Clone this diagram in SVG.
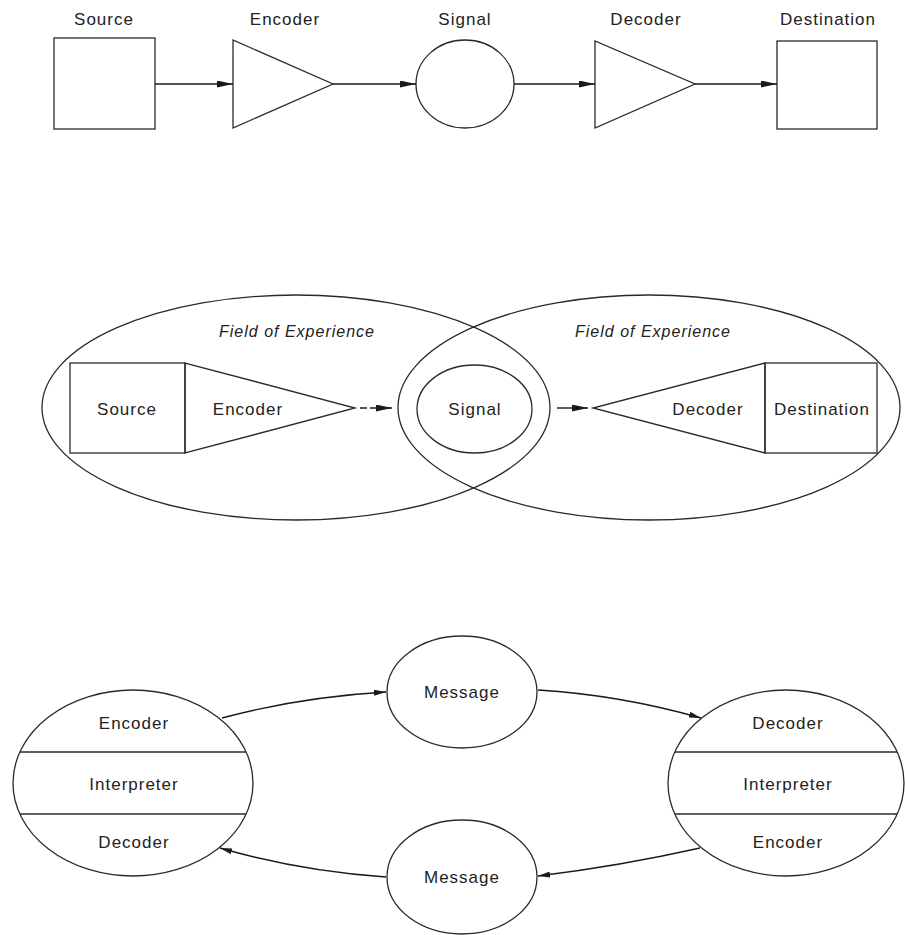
<svg xmlns="http://www.w3.org/2000/svg" width="905" height="935" viewBox="0 0 905 935">
  <style>
    .shape { fill: none; stroke: #2a2a2a; stroke-width: 1.3; }
    .wire { fill: none; stroke: #1a1a1a; stroke-width: 1.4; }
    .lbl { font-family: "Liberation Sans", Arial, sans-serif; font-size: 17px; letter-spacing: 1px; fill: #222; text-anchor: middle; }
    .fld { font-family: "Liberation Sans", Arial, sans-serif; font-size: 16px; font-style: italic; letter-spacing: 1px; fill: #222; text-anchor: middle; }
  </style>
  <defs>
    <marker id="head" viewBox="0 0 16 7" refX="16" refY="3.5" markerWidth="16" markerHeight="7" markerUnits="userSpaceOnUse" orient="auto">
      <path d="M0,0 L16,3.5 L0,7 z" fill="#1a1a1a"/>
    </marker>
    <marker id="headSm" viewBox="0 0 12 6" refX="12" refY="3" markerWidth="12" markerHeight="6" markerUnits="userSpaceOnUse" orient="auto">
      <path d="M0,0 L12,3 L0,6 z" fill="#1a1a1a"/>
    </marker>
  </defs>
  <rect width="905" height="935" fill="#ffffff"/>

  <!-- Linear model -->
  <g id="lin-source">
    <rect class="shape" x="54" y="38" width="101" height="91"/>
    <text class="lbl" x="104" y="25">Source</text>
  </g>
  <g id="lin-encoder">
    <polygon class="shape" points="233,40 233,128 333,84"/>
    <text class="lbl" x="285" y="25">Encoder</text>
  </g>
  <g id="lin-signal">
    <ellipse class="shape" cx="465" cy="84" rx="49" ry="44"/>
    <text class="lbl" x="465" y="25">Signal</text>
  </g>
  <g id="lin-decoder">
    <polygon class="shape" points="595,41 595,128 695,84"/>
    <text class="lbl" x="646" y="25">Decoder</text>
  </g>
  <g id="lin-destination">
    <rect class="shape" x="777" y="41" width="100" height="88"/>
    <text class="lbl" x="828" y="25">Destination</text>
  </g>

  <!-- Overlapping fields of experience -->
  <g id="field-sender">
    <ellipse class="shape" cx="296" cy="407.5" rx="254" ry="112.5"/>
    <text class="fld" x="297" y="337">Field of Experience</text>
  </g>
  <g id="field-receiver">
    <ellipse class="shape" cx="649" cy="407.5" rx="251" ry="112.5"/>
    <text class="fld" x="653" y="337">Field of Experience</text>
  </g>
  <g id="fld-source">
    <rect class="shape" x="70" y="363" width="115" height="90"/>
    <text class="lbl" x="127" y="415">Source</text>
  </g>
  <g id="fld-encoder">
    <polygon class="shape" points="185,363 185,453 355,408"/>
    <text class="lbl" x="248" y="415">Encoder</text>
  </g>
  <g id="fld-signal">
    <ellipse class="shape" cx="474.5" cy="409" rx="57.5" ry="44"/>
    <text class="lbl" x="475" y="415">Signal</text>
  </g>
  <g id="fld-decoder">
    <polygon class="shape" points="765,363 765,453 593,408"/>
    <text class="lbl" x="708" y="415">Decoder</text>
  </g>
  <g id="fld-destination">
    <rect class="shape" x="765" y="363" width="112" height="90"/>
    <text class="lbl" x="822" y="415">Destination</text>
  </g>

  <!-- Transactional model -->
  <g id="party-a">
    <ellipse class="shape" cx="133" cy="783" rx="120" ry="93"/>
    <line class="shape" x1="20" y1="752" x2="246" y2="752"/>
    <line class="shape" x1="20" y1="814" x2="246" y2="814"/>
    <text class="lbl" x="134" y="729">Encoder</text>
    <text class="lbl" x="134" y="790">Interpreter</text>
    <text class="lbl" x="134" y="848">Decoder</text>
  </g>
  <g id="message-top">
    <ellipse class="shape" cx="462" cy="692" rx="75" ry="56"/>
    <text class="lbl" x="462" y="698">Message</text>
  </g>
  <g id="message-bottom">
    <ellipse class="shape" cx="462" cy="877" rx="75" ry="57"/>
    <text class="lbl" x="462" y="883">Message</text>
  </g>
  <g id="party-b">
    <ellipse class="shape" cx="786" cy="783" rx="118" ry="93"/>
    <line class="shape" x1="675" y1="752" x2="897" y2="752"/>
    <line class="shape" x1="675" y1="814" x2="897" y2="814"/>
    <text class="lbl" x="788" y="729">Decoder</text>
    <text class="lbl" x="788" y="790">Interpreter</text>
    <text class="lbl" x="788" y="848">Encoder</text>
  </g>

  <!-- Connectors -->
  <g id="connectors">
    <line class="wire" x1="155" y1="84" x2="233" y2="84" marker-end="url(#head)"/>
    <line class="wire" x1="333" y1="84" x2="416" y2="84" marker-end="url(#head)"/>
    <line class="wire" x1="514" y1="84" x2="595" y2="84" marker-end="url(#head)"/>
    <line class="wire" x1="695" y1="84" x2="777" y2="84" marker-end="url(#head)"/>

    <line class="wire" x1="360" y1="408" x2="392" y2="408" stroke-dasharray="7,3,40" marker-end="url(#head)"/>
    <line class="wire" x1="557" y1="408" x2="588" y2="408" marker-end="url(#head)"/>

    <path class="wire" d="M222,718 Q300,697 386,692" marker-end="url(#headSm)"/>
    <path class="wire" d="M538,690 Q620,695 701,718" marker-end="url(#headSm)"/>
    <path class="wire" d="M700,848 Q620,866 538,876" marker-end="url(#headSm)"/>
    <path class="wire" d="M386,877 Q300,871 220,848" marker-end="url(#headSm)"/>
  </g>
</svg>
